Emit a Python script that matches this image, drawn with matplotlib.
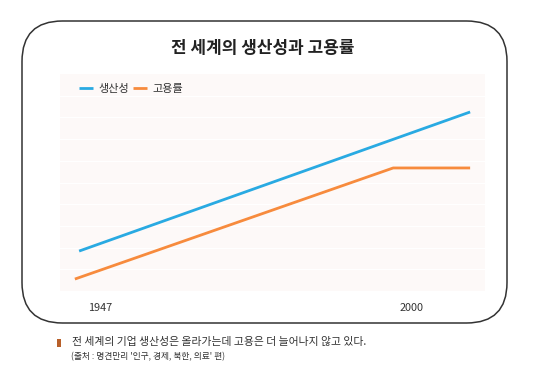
import matplotlib
matplotlib.use("Agg")
import matplotlib.pyplot as plt
from matplotlib.patches import FancyBboxPatch, Rectangle

plt.rcParams['font.family'] = ['Noto Sans CJK KR', 'DejaVu Sans']

title = "전 세계의 생산성과 고용률"
series_names = ["생산성", "고용률"]
colors = ["#29aae2", "#f78b3d"]
# positions along the horizontal axis (relative units) and values (relative index)
x_prod = [4.5, 96.5]
y_prod = [1.84, 8.25]
x_emp = [3.5, 78.4, 96.5]
y_emp = [0.55, 5.67, 5.67]
tick_pos = [9.4, 82.6]
tick_labels = ["1947", "2000"]
caption = "전 세계의 기업 생산성은 올라가는데 고용은 더 늘어나지 않고 있다."
source = "(출처 : 명견만리 '인구, 경제, 북한, 의료' 편)"

W, H = 539, 375
fig = plt.figure(figsize=(W / 100, H / 100), dpi=100)
fig.patch.set_facecolor("white")

# rounded frame
frame = FancyBboxPatch((22 / W, 1 - 323 / H), (507 - 22) / W, (323 - 21) / H,
                       boxstyle="round,pad=0,rounding_size=0.075",
                       transform=fig.transFigure, facecolor="none",
                       edgecolor="#333333", linewidth=1.1,
                       mutation_aspect=W / H, zorder=5)
fig.patches.append(frame)

ax = fig.add_axes([60 / W, 1 - 291 / H, (485 - 60) / W, (291 - 74) / H])
ax.set_facecolor("#fdf9f8")
ax.set_xlim(0, 100)
ax.set_ylim(0, 10)
ax.set_yticks(range(1, 10))
ax.yaxis.grid(True, color="white", linewidth=0.8)
ax.set_axisbelow(True)
for s in ax.spines.values():
    s.set_visible(False)
ax.tick_params(axis="y", left=False, labelleft=False)
ax.set_xticks(tick_pos)
ax.set_xticklabels(tick_labels, fontsize=7.8, color="#333333")
ax.tick_params(axis="x", bottom=False, pad=5)

l1, = ax.plot(x_prod, y_prod, color=colors[0], lw=2.0, solid_capstyle="butt", label=series_names[0])
l2, = ax.plot(x_emp, y_emp, color=colors[1], lw=2.0, solid_capstyle="butt", label=series_names[1])

leg = ax.legend(loc="upper left", bbox_to_anchor=(0.02, 1.0), ncol=2, frameon=False,
                fontsize=8, handlelength=1.3, handletextpad=0.5, columnspacing=0.3)
for t in leg.get_texts():
    t.set_color("#333333")

fig.text(263 / W, 1 - 48 / H, title, ha="center", va="center", fontsize=12.2,
         fontweight="bold", color="#222222")

fig.patches.append(Rectangle((57 / W, 1 - 347 / H), 3.5 / W, 8.5 / H,
                             transform=fig.transFigure, facecolor="#b8602a", edgecolor="none"))
fig.text(72 / W, 1 - 342 / H, caption, ha="left", va="center", fontsize=7.8, color="#333333")
fig.text(71 / W, 1 - 357 / H, source, ha="left", va="center", fontsize=6.3, color="#333333")

fig.savefig("out.png", dpi=100, facecolor="white")
